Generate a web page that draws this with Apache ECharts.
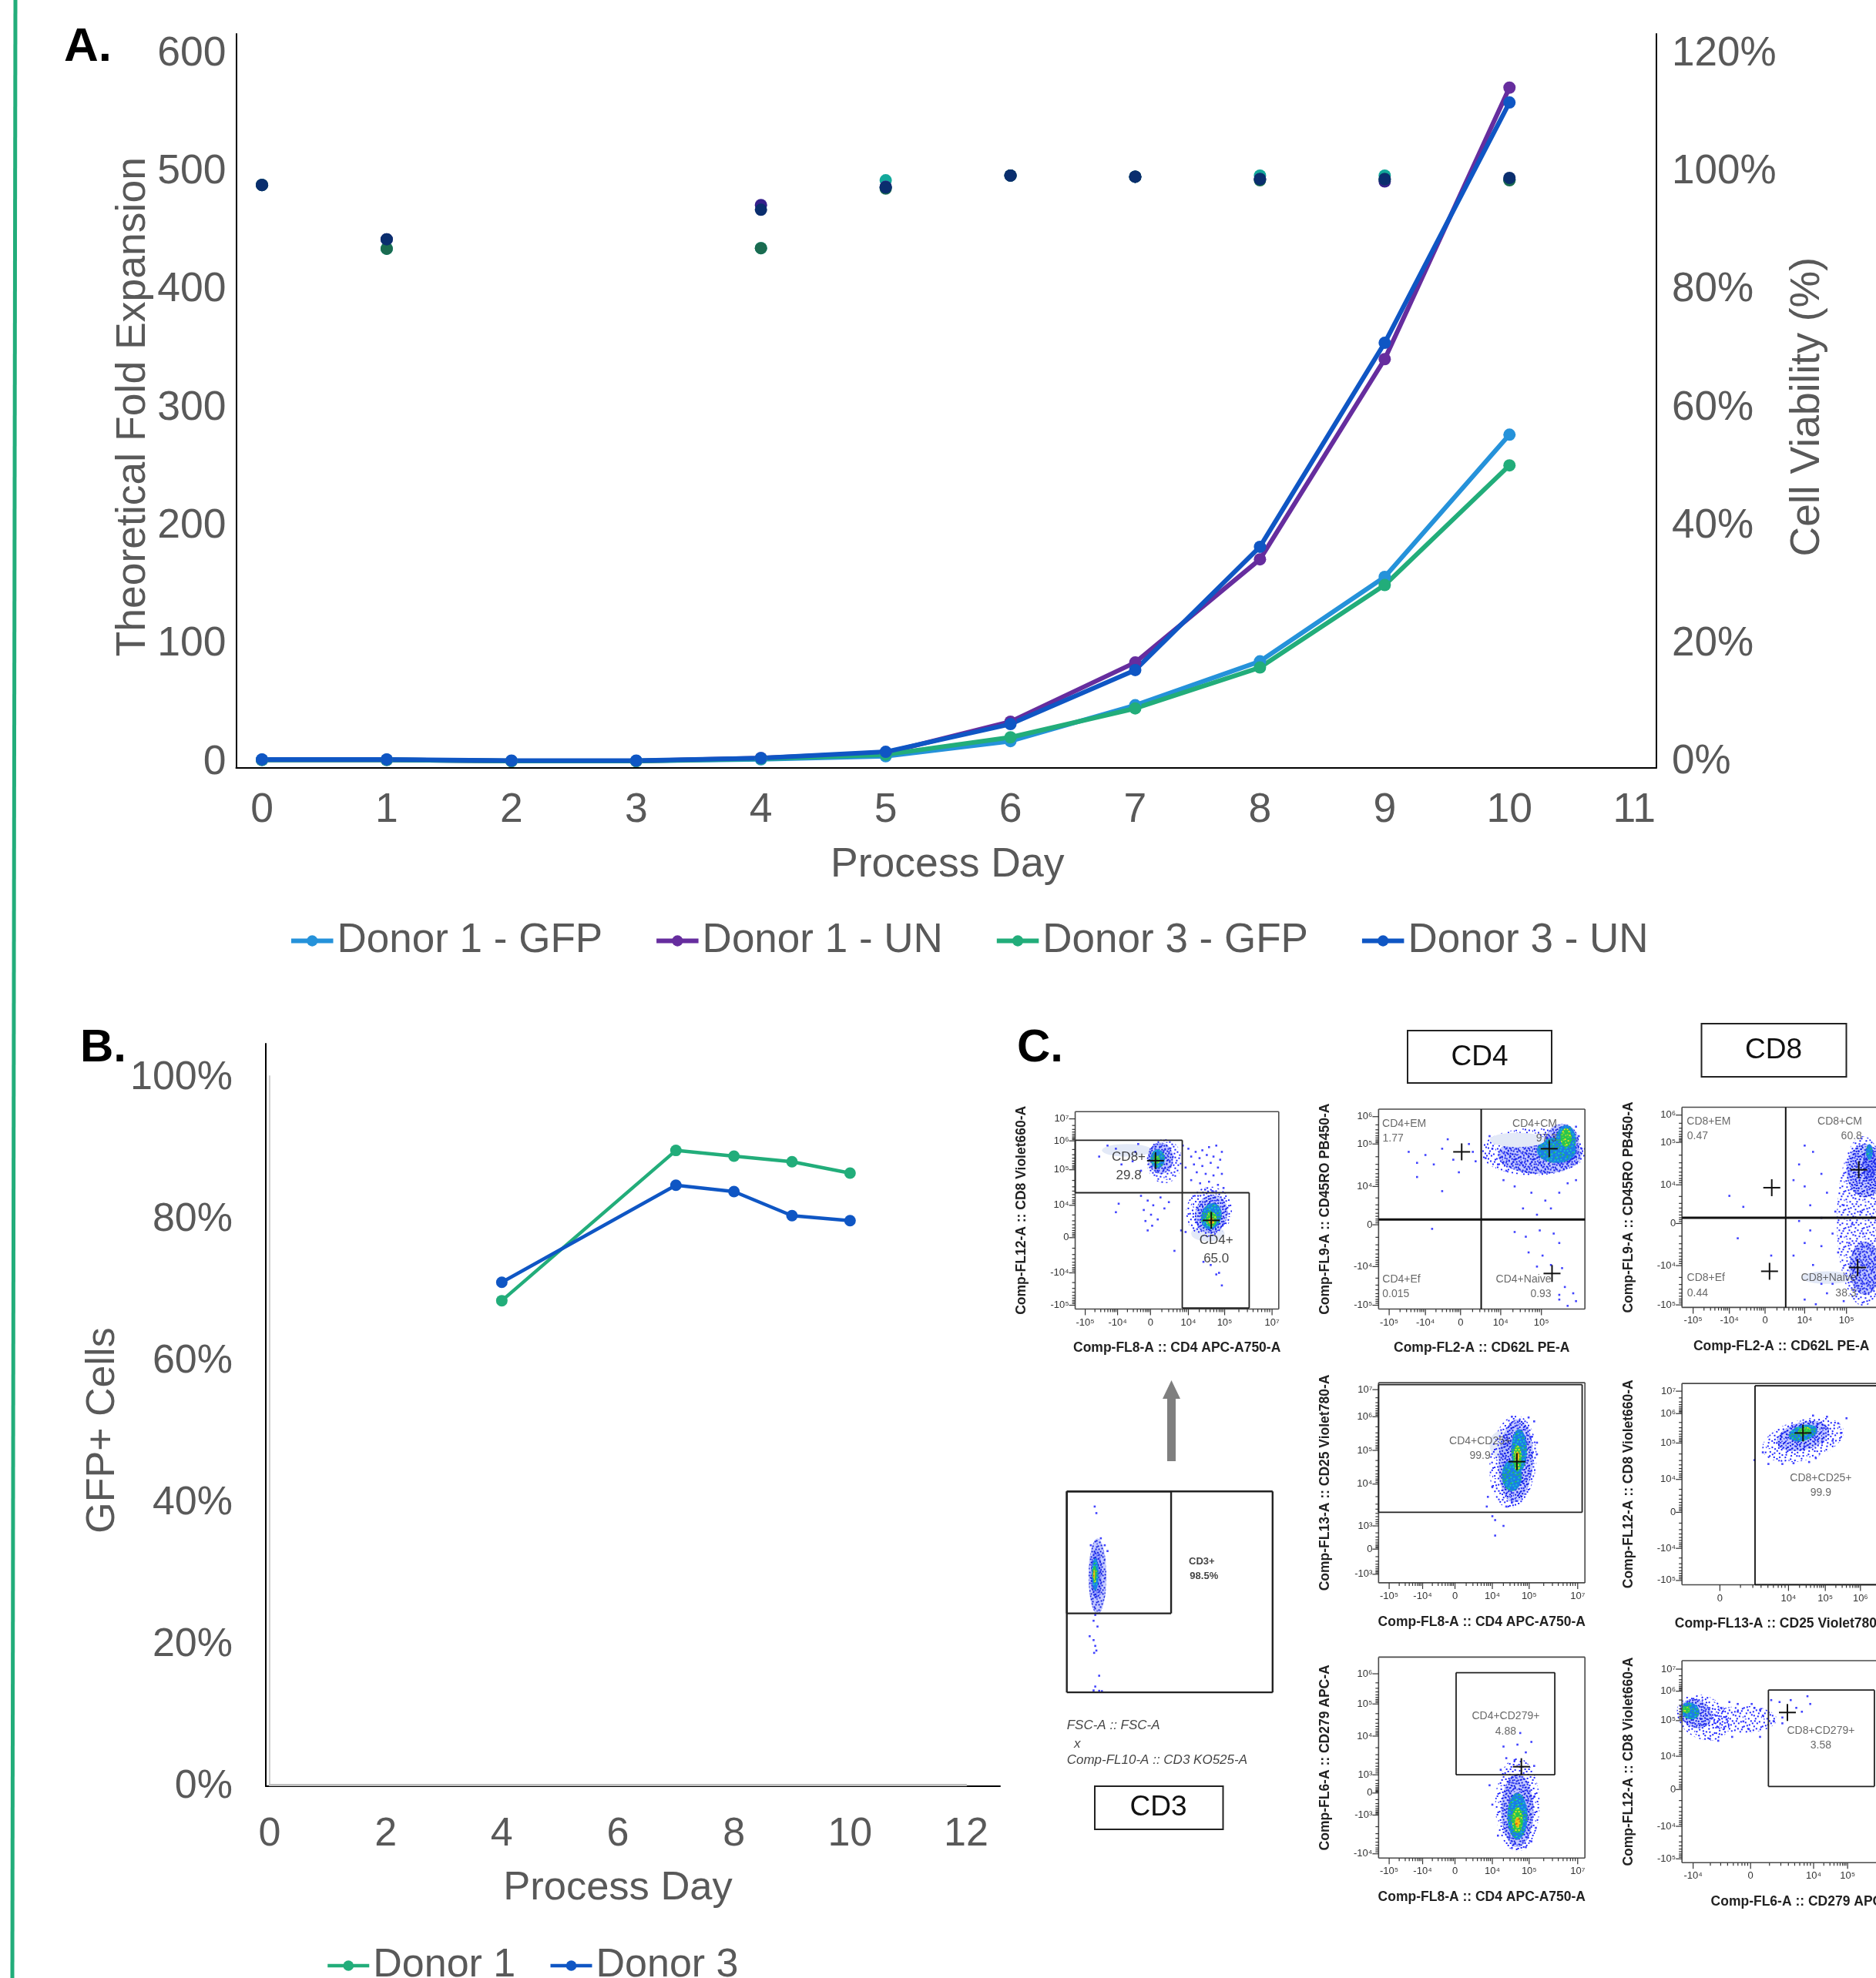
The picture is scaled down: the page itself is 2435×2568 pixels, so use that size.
<!DOCTYPE html>
<html><head><meta charset="utf-8">
<script src="https://cdn.jsdelivr.net/npm/echarts@6/dist/echarts.min.js"></script>
<style>html,body{margin:0;padding:0;background:#fff}#c{width:2435px;height:2568px}</style></head>
<body><div id="c"></div>
<script>
// ---------- Panel A data ----------
const days = [0,1,2,3,4,5,6,7,8,9,10];
const foldD1GFP = [6.5,6.5,5.5,5.5,7,9.6,22.4,52.8,90,161.5,282];
const foldD1UN  = [6.5,6.5,5.5,5.5,8,12.5,38.9,89,176.4,346,576];
const foldD3GFP = [6.5,6.5,5.5,5.5,7.5,11,25.6,50.1,84.8,154.6,256];
const foldD3UN  = [6.9,6.9,5.9,5.9,8,13.3,36.8,82.6,187,359.8,563.4];
const viaD1GFP = [98.7,87.9,null,null,88,99.5,100.3,100.1,100.3,100.3,99.6];
const viaD1UN  = [98.7,89.5,null,null,95.3,98.4,100.3,100.1,99.7,99.3,99.6];
const viaD3GFP = [98.7,87.9,null,null,88,98.1,100.3,100.1,99.5,99.7,99.5];
const viaD3UN  = [98.7,89.5,null,null,94.5,98.3,100.3,100.1,99.7,99.7,99.9];
const foldTicks = [0,100,200,300,400,500,600];
const viaTicks = [0,20,40,60,80,100,120];
const dayTicksA = [0,1,2,3,4,5,6,7,8,9,10,11];
// ---------- Panel B data ----------
const gfpDays = [4,7,8,9,10];
const gfpD1 = [68.3,89.5,88.7,87.9,86.3];
const gfpD3 = [70.9,84.6,83.7,80.3,79.6];

const FONT = '"Liberation Sans",Arial,sans-serif';
const GREY = '#595959';
const cGFP1='#2592DA', cUN1='#662D9E', cGFP3='#22AD7A', cUN3='#0F56C4';
const zip = (xs,ys)=>xs.map((x,i)=>[x,ys[i]]);

const grid=[], xAxis=[], yAxis=[], series=[];

// ---- Panel A ----
grid.push({left:306.5,top:44,width:1843.5,height:952.5,outerBoundsMode:'none'});
xAxis.push({type:'value',gridIndex:0,min:-0.207,max:11.178,
  name:'Process Day',nameLocation:'middle',nameGap:100,nameMoveOverlap:false,nameTextStyle:{fontSize:53.5,fontFamily:FONT,color:GREY,padding:[0,0,0,3]},
  axisLine:{onZero:false,lineStyle:{color:'#000',width:2}},axisTick:{show:false},splitLine:{show:false},
  axisLabel:{customValues:dayTicksA,fontSize:53.5,fontFamily:FONT,color:GREY,margin:29}});
yAxis.push({type:'value',gridIndex:0,min:0,max:621.5,
  name:'Theoretical Fold Expansion',nameLocation:'middle',nameGap:106,nameMoveOverlap:false,nameTextStyle:{fontSize:53.5,fontFamily:FONT,color:GREY,padding:[0,16,0,0]},
  axisLine:{show:true,onZero:false,lineStyle:{color:'#000',width:2}},axisTick:{show:false},splitLine:{show:false},
  axisLabel:{customValues:foldTicks,fontSize:53.5,fontFamily:FONT,color:GREY,margin:13,verticalAlign:'bottom',lineHeight:13.5}});
yAxis.push({type:'value',gridIndex:0,position:'right',min:0,max:124.3,
  name:'Cell Viability (%)',nameLocation:'middle',nameRotate:90,nameGap:169,nameMoveOverlap:false,nameTextStyle:{fontSize:53.5,fontFamily:FONT,color:GREY,padding:[0,16,0,0]},
  axisLine:{show:true,onZero:false,lineStyle:{color:'#000',width:2}},axisTick:{show:false},splitLine:{show:false},
  axisLabel:{customValues:viaTicks,fontSize:53,fontFamily:FONT,color:GREY,margin:20,verticalAlign:'bottom',lineHeight:13.5,formatter:v=>v+'%'}});
[['Viability D1 GFP',viaD1GFP,'#13A89B'],['Viability D1 UN',viaD1UN,'#36208C'],['Viability D3 GFP',viaD3GFP,'#1A6B50'],['Viability D3 UN',viaD3UN,'#0A2E6E']].forEach(s=>{
  series.push({type:'scatter',name:s[0],xAxisIndex:0,yAxisIndex:1,symbolSize:16,data:zip(days,s[1]),itemStyle:{color:s[2],opacity:1},silent:true});
});
[['Donor 1 - GFP',foldD1GFP,cGFP1],['Donor 1 - UN',foldD1UN,cUN1],['Donor 3 - GFP',foldD3GFP,cGFP3],['Donor 3 - UN',foldD3UN,cUN3]].forEach(s=>{
  series.push({type:'line',name:s[0],xAxisIndex:0,yAxisIndex:0,symbol:'circle',symbolSize:16,showSymbol:true,data:zip(days,s[1]),
    lineStyle:{color:s[2],width:6},itemStyle:{color:s[2]},silent:true});
});

// ---- Panel B: black outer axes, grey inner axes carrying the data ----
grid.push({left:345,top:1355,width:953,height:964,outerBoundsMode:'none'});
xAxis.push({type:'value',gridIndex:1,min:0,max:1,axisLine:{lineStyle:{color:'#000',width:2}},axisTick:{show:false},axisLabel:{show:false},splitLine:{show:false}});
yAxis.push({type:'value',gridIndex:1,min:0,max:1,axisLine:{show:true,lineStyle:{color:'#000',width:2}},axisTick:{show:false},axisLabel:{show:false},splitLine:{show:false}});
grid.push({left:350,top:1397,width:904,height:920,outerBoundsMode:'none'});
xAxis.push({type:'value',gridIndex:2,min:0,max:12,interval:2,
  name:'Process Day',nameLocation:'middle',nameGap:108,nameMoveOverlap:false,nameTextStyle:{fontSize:52.5,fontFamily:FONT,color:GREY},
  axisLine:{lineStyle:{color:'#bfbfbf',width:3}},axisTick:{show:false},splitLine:{show:false},
  axisLabel:{fontSize:52,fontFamily:FONT,color:GREY,margin:39}});
yAxis.push({type:'value',gridIndex:2,min:0,max:100,interval:20,
  name:'GFP+ Cells',nameLocation:'middle',nameGap:190,nameMoveOverlap:false,nameTextStyle:{fontSize:52,fontFamily:FONT,color:GREY},
  axisLine:{show:true,lineStyle:{color:'#cfcfcf',width:2}},axisTick:{show:false},splitLine:{show:false},
  axisLabel:{fontSize:52,fontFamily:FONT,color:GREY,margin:48,verticalAlign:'top',lineHeight:6,formatter:v=>v+'%'}});
[['Donor 1',gfpD1,cGFP3],['Donor 3',gfpD3,cUN3]].forEach(s=>{
  series.push({type:'line',name:s[0],xAxisIndex:2,yAxisIndex:3,symbol:'circle',symbolSize:15,showSymbol:true,data:zip(gfpDays,s[1]),
    lineStyle:{color:s[2],width:4.5},itemStyle:{color:s[2]},silent:true});
});

// ---- Panel C: flow-cytometry plots (estimated gates, density clouds and sparse events) ----
const FX=0.7239, FY3=0.408, FY4=0.5026, OX=1300, OY3=1320, OY4=1780;
const SPK='#2b2dff';
const sup={'4':'⁴','5':'⁵','6':'⁶','7':'⁷','3':'³'};
const T=(neg,e)=>(neg?'-':'')+'10'+sup[e];

// stipple tile used as the fill of a density cloud, so that it reads as dots rather than a flat shape
const TILE_DOTS=[[2,3],[9,1],[17,4],[22,9],[5,11],[13,8],[19,15],[1,19],[10,17],[15,22],[7,6],[20,2],[3,15],[12,13],[23,20],[6,22],[16,11],[11,4],[0,8],[18,19],[8,14],[14,1],[21,12],[4,7],[13,18],[2,23],[17,8],[9,21],[23,5],[6,17],[11,10],[19,23],[1,12],[15,5],[8,2],[20,17],[4,20],[12,22],[22,1],[16,15]];
function tile(n,col,bg,col2){
  const c=document.createElement('canvas');c.width=c.height=24;const g=c.getContext('2d');
  if(bg){g.fillStyle=bg;g.fillRect(0,0,24,24);}
  TILE_DOTS.slice(0,n).forEach((d,i)=>{g.fillStyle=(col2&&i%2)?col2:col;g.fillRect(d[0],d[1],2,2);});
  return {image:c,repeat:'repeat'};
}
const DENS=[
  tile(26,'#1d22ff',null),                  // 0 sparse events
  tile(40,'#1420e0','rgba(60,80,255,.3)'),  // 1 dense blue
  tile(40,'#18c9c0','#1a7ce8','#27c64e'),   // 2 cyan / green
  tile(40,'#efe21e','#27c64e','#7fd83a'),   // 3 green / yellow
  tile(40,'#e8560f','#f0c814','#d8300f'),   // 4 orange / red
  null,
  '#e3e9f7'                                 // 6 pale backdrop behind labels
];
// symbols are drawn scaled up from a 2x2 unit path; undo that for the stipple so it stays at pixel size
const cloudFill=(lvl,w,h)=>typeof DENS[lvl]==='string'?DENS[lvl]:{...DENS[lvl],scaleX:2/w,scaleY:2/h};

const p1Events=[[335,420],[348,430],[360,425],[372,415],[385,410],[395,430],[340,445],[355,450],[368,440],[380,445],[392,455],[345,470],[360,475],[375,465],[388,480],[350,495],[366,500],[380,505],[395,500],[340,520],[356,530],[372,525],[388,535],[398,545],[365,550],[378,555],[250,570],[262,585],[272,600],[255,615],[268,630],[280,645],[258,650],[270,665],[262,680],[210,595],[205,622],[292,610],[285,575],[300,590],[175,445],[190,410],[205,420],[215,470],[240,430],[250,490],[245,405],[235,460],[310,745],[385,820],[395,855],[375,790],[362,780],[330,685],[322,680],[390,815],[325,410],[330,480]];
const p1Clouds=[[225,425,90,40,0,6],[370,690,60,50,0,6],[292,460,64,140,0,0],[285,450,46,100,0,1],[280,452,26,60,0,2],[278,455,12,26,0,3],[372,620,82,160,-15,0],[376,628,58,125,-15,1],[376,635,36,85,-15,2],[376,645,20,48,0,3],[376,650,10,20,0,4]];
const p2Events=[[730,430],[745,465],[760,440],[775,470],[790,420],[800,390],[810,455],[838,405],[845,430],[850,460],[790,555],[745,510],[820,495],[772,675],[900,520],[920,540],[950,560],[975,585],[1000,560],[1015,530],[960,630],[985,610],[1030,520],[935,610],[920,685],[940,700],[965,680],[990,690],[1000,720],[945,750],[970,760],[985,790],[1005,800],[960,795],[1010,860],[1000,885],[1025,880],[1015,920],[1030,905],[1000,900],[875,380],[880,420],[868,450],[890,470],[905,490],[1035,380],[1040,420],[1030,350]];
const p2Clouds=[[953,430,188,150,0,0],[965,440,150,120,0,1],[1005,405,62,130,0,1],[995,425,70,80,0,2],[1012,395,36,100,0,2],[1012,385,20,60,0,3],[925,392,100,46,0,6]];
const p3Events=[[1305,570],[1330,605],[1320,705],[1380,760],[1440,410],[1430,470],[1455,430],[1470,500],[1440,540],[1420,520],[1480,560],[1450,600],[1470,640],[1430,650],[1450,680],[1490,690],[1470,730],[1440,720],[1420,760],[1455,790],[1470,850],[1480,880],[1440,900],[1460,915],[1495,620],[1510,600],[1525,660],[1505,700],[1520,720],[1540,620],[1545,690],[1500,750],[1490,850],[1510,905]];
const p3Clouds=[[1480,830,90,40,0,6],[1545,650,95,540,0,0],[1548,490,66,170,0,1],[1548,800,56,170,0,1],[1556,470,24,110,0,1],[1556,430,12,50,0,2]];
const p4Events=[[880,375],[885,385],[900,400],[885,425],[870,350],[905,350],[915,340],[945,120],[955,130],[915,118],[950,170],[960,185],[880,300],[872,325],[960,215]];
const p4Clouds=[[895,190,40,70,0,6],[917,235,84,240,-5,0],[922,232,62,215,-3,1],[915,270,36,80,0,2],[928,205,28,110,0,2],[925,225,15,66,0,3],[925,220,7,26,0,4]];
const p5Events=[[1350,230],[1365,210],[1375,240],[1400,240],[1420,238],[1448,235],[1460,225],[1490,180],[1505,160],[1515,122],[1500,135],[1480,118],[1455,115]];
const p5Clouds=[[1437,178,150,105,15,0],[1437,168,96,72,15,1],[1437,160,52,40,15,2],[1440,155,24,20,15,3]];
const p6Events=[[900,970],[925,965],[950,958],[940,985],[905,1000],[920,1005],[955,1020],[895,1030],[930,935],[875,1070],[880,1120],[955,1100],[958,1180],[890,1200],[915,1232],[940,1230],[950,1215]];
const p6Clouds=[[925,1120,80,240,0,0],[925,1135,58,190,0,1],[925,1150,36,120,0,2],[925,1160,20,66,0,3],[925,1165,9,26,0,4]];
const p7Events=[[1285,920],[1300,900],[1310,945],[1285,955],[1270,950],[1320,880],[1330,905],[1340,925],[1350,870],[1365,890],[1360,945],[1345,860],[1380,850],[1395,855],[1400,895],[1415,850],[1425,870],[1435,880],[1445,840],[1450,860],[1385,905],[1400,910],[1320,860],[1305,855],[1290,870],[1360,875]];
const p7Clouds=[[1330,900,120,70,0,0],[1258,895,100,110,-30,0],[1245,885,60,72,-30,1],[1235,878,34,42,-30,2],[1228,875,14,18,-30,3]];
const p8Events=[[167,350],[170,367],[168,630],[165,645],[172,660],[158,685],[165,695],[168,710],[170,722],[166,728],[175,787],[168,815],[165,825],[175,826],[180,827],[178,432],[185,450],[190,465],[160,450]];
const p8Clouds=[[172,530,32,195,0,1],[170,525,20,130,0,1],[168,525,12,84,0,2],[167,525,7,44,0,3],[166,525,3,24,0,4]];

const small=14, big=17;
const panels=[
 {view:[132,497,302,930],oy:OY3,fy:FY3,
  xl:[[150,T(1,5)],[208,T(1,4)],[267,'0'],[335,T(0,4)],[400,T(0,5)],[485,T(0,7)]],
  yl:[[325,T(0,7)],[395,T(0,6)],[487,T(0,5)],[600,T(0,4)],[703,'0'],[815,T(1,4)],[918,T(1,5)]],
  xt:'Comp-FL8-A :: CD4 APC-A750-A',yt:'Comp-FL12-A :: CD8 Violet660-A',
  gates:[[132,393,324,560],[324,560,444,927]],crosses:[[276,458],[376,648]],
  text:[[228,446,'CD8+',big],[228,505,'29.8',big],[385,712,'CD4+',big],[385,770,'65.0',big]],
  clouds:p1Clouds,events:p1Events},
 {view:[676,1046,294,930],oy:OY3,fy:FY3,
  xl:[[695,T(1,5)],[760,T(1,4)],[823,'0'],[895,T(0,4)],[968,T(0,5)]],
  yl:[[318,T(0,6)],[405,T(0,5)],[540,T(0,4)],[662,'0'],[795,T(1,4)],[918,T(1,5)]],
  xt:'Comp-FL2-A :: CD62L PE-A',yt:'Comp-FL9-A :: CD45RO PB450-A',
  lines:[[860,294,860,930,2],[676,645,1046,645,3]],crosses:[[825,430],[982,420],[987,817]],
  text:[[722,341,'CD4+EM',small],[702,388,'1.77',small],[956,341,'CD4+CM',small],[977,387,'97.3',small],[717,836,'CD4+Ef',small],[707,883,'0.015',small],[936,836,'CD4+Naive',small],[967,883,'0.93',small]],
  clouds:p2Clouds,events:p2Events},
 {view:[1220,1568,288,925],oy:OY3,fy:FY3,xPad:6,open:true,
  xl:[[1240,T(1,5)],[1305,T(1,4)],[1369,'0'],[1440,T(0,4)],[1515,T(0,5)]],
  yl:[[313,T(0,6)],[400,T(0,5)],[535,T(0,4)],[658,'0'],[792,T(1,4)],[917,T(1,5)]],
  xt:'Comp-FL2-A :: CD62L PE-A',yt:'Comp-FL9-A :: CD45RO PB450-A',
  lines:[[1406,288,1406,925,2],[1220,640,1568,640,3]],crosses:[[1537,487],[1381,544],[1377,810],[1535,798]],
  text:[[1268,334,'CD8+EM',small],[1248,381,'0.47',small],[1503,334,'CD8+CM',small],[1524,381,'60.8',small],[1263,832,'CD8+Ef',small],[1248,880,'0.44',small],[1483,832,'CD8+Naive',small],[1514,880,'38.3',small]],
  clouds:p3Clouds,events:p3Events},
 {view:[676,1046,30,547],oy:OY4,fy:FY4,
  xl:[[695,T(1,5)],[755,T(1,4)],[813,'0'],[880,T(0,4)],[946,T(0,5)],[1033,T(0,7)]],
  yl:[[48,T(0,7)],[118,T(0,6)],[205,T(0,5)],[292,T(0,4)],[400,T(0,3)],[460,'0'],[525,T(1,3)]],
  xt:'Comp-FL8-A :: CD4 APC-A750-A',yt:'Comp-FL13-A :: CD25 Violet780-A',
  gates:[[676,35,1041,365]],crosses:[[924,234]],
  text:[[858,181,'CD4+CD25+',small],[858,220,'99.9',small]],
  clouds:p4Clouds,events:p4Events},
 {view:[1220,1568,32,552],oy:OY4,fy:FY4,xPad:10,open:true,
  xl:[[1288,'0'],[1411,T(0,4)],[1477,T(0,5)],[1540,T(0,6)]],
  yl:[[52,T(0,7)],[110,T(0,6)],[186,T(0,5)],[280,T(0,4)],[365,'0'],[458,T(1,4)],[541,T(1,5)]],
  xt:'Comp-FL13-A :: CD25 Violet780-A',yt:'Comp-FL12-A :: CD8 Violet660-A',
  lines:[[1351,38,1568,38,1.8],[1351,38,1351,552,1.8],[1351,552,1568,552,1.8]],crosses:[[1437,160]],
  text:[[1469,276,'CD8+CD25+',small],[1469,314,'99.9',small]],
  clouds:p5Clouds,events:p5Events},
 {view:[676,1046,739,1258],oy:OY4,fy:FY4,
  xl:[[695,T(1,5)],[755,T(1,4)],[813,'0'],[880,T(0,4)],[946,T(0,5)],[1033,T(0,7)]],
  yl:[[782,T(0,6)],[860,T(0,5)],[943,T(0,4)],[1043,T(0,3)],[1090,'0'],[1147,T(1,3)],[1247,T(1,4)]],
  xt:'Comp-FL8-A :: CD4 APC-A750-A',yt:'Comp-FL6-A :: CD279 APC-A',
  gates:[[815,779,992,1043]],crosses:[[932,1022]],
  text:[[904,892,'CD4+CD279+',small],[904,931,'4.88',small]],
  clouds:p6Clouds,events:p6Events},
 {view:[1220,1568,748,1270],oy:OY4,fy:FY4,xPad:64,open:true,
  xl:[[1240,T(1,4)],[1343,'0'],[1456,T(0,4)],[1517,T(0,5)]],
  yl:[[770,T(0,7)],[827,T(0,6)],[903,T(0,5)],[995,T(0,4)],[1081,'0'],[1176,T(1,4)],[1260,T(1,5)]],
  xt:'Comp-FL6-A :: CD279 APC-A',yt:'Comp-FL12-A :: CD8 Violet660-A',
  gates:[[1375,824,1565,1073]],crosses:[[1409,882]],
  text:[[1469,929,'CD8+CD279+',small],[1469,968,'3.58',small]],
  clouds:p7Clouds,events:p7Events},
 {view:[117,486,311,830],oy:OY4,fy:FY4,noAxes:true,
  gates:[[117,311,304,626]],crosses:[],
  text:[[359,493,'CD3+',13,'bold'],[363,531,'98.5%',13,'bold'],
        [117,915,'FSC-A :: FSC-A',17,'italic','left'],[130,964,'x',17,'italic','left'],[117,1005,'Comp-FL10-A :: CD3 KO525-A',17,'italic','left']],
  clouds:p8Clouds,events:p8Events},
];

panels.forEach(p=>{
  const gi=grid.length, [x0,x1,y0,y1]=p.view;
  grid.push({left:OX+x0*FX,width:(x1-x0)*FX,top:p.oy+y0*p.fy,height:(y1-y0)*p.fy,outerBoundsMode:'none'});
  const xm=Object.fromEntries((p.xl||[]).map(a=>[a[0],a[1]])), ym=Object.fromEntries((p.yl||[]).map(a=>[a[0],a[1]]));
  const titleStyle={fontSize:17.5,fontWeight:'bold',fontFamily:FONT,color:'#222'};
  xAxis.push({type:'value',gridIndex:gi,min:x0,max:x1,axisLine:{show:false},axisTick:{show:false},splitLine:{show:false},
    name:p.xt||'',nameLocation:'middle',nameGap:42,nameMoveOverlap:false,nameTextStyle:{...titleStyle,padding:[0,0,0,p.xPad||0]},
    axisLabel:p.noAxes?{show:false}:{customValues:p.xl.map(a=>a[0]),formatter:v=>xm[v],fontSize:13,fontFamily:FONT,color:'#333',margin:11}});
  yAxis.push({type:'value',gridIndex:gi,min:y0,max:y1,inverse:true,axisLine:{show:false},axisTick:{show:false},splitLine:{show:false},
    name:p.yt||'',nameLocation:'middle',nameGap:60,nameMoveOverlap:false,nameTextStyle:titleStyle,
    axisLabel:p.noAxes?{show:false}:{customValues:p.yl.map(a=>a[0]),formatter:v=>ym[v],fontSize:13,fontFamily:FONT,color:'#333',margin:8}});
  const ax={xAxisIndex:xAxis.length-1,yAxisIndex:yAxis.length-1,silent:true};
  // density clouds
  series.push({type:'scatter',...ax,clip:false,z:2,data:p.clouds.map(c=>{const w=c[2]*FX,h=c[3]*p.fy;
    return {value:[c[0],c[1]],symbolSize:[w,h],symbolRotate:c[4],itemStyle:{color:cloudFill(c[5],w,h),opacity:1}};})});
  // sparse events
  series.push({type:'scatter',...ax,clip:false,z:3,symbol:'rect',symbolSize:2.6,itemStyle:{color:SPK,opacity:0.9},data:p.events});
  // frame, gates, crosses and ticks as segments
  const seg=[];
  const box=(a,b,c,d,lw,col)=>{seg.push([a,b,c,b,lw,col],[c,b,c,d,lw,col],[c,d,a,d,lw,col],[a,d,a,b,lw,col]);};
  const fw=p.noAxes?2.4:1.6, fc=p.noAxes?'#222':'#4a4a4a';
  if(p.open){seg.push([x0,y0,x1,y0,fw,fc],[x0,y1,x1,y1,fw,fc],[x0,y0,x0,y1,fw,fc]);}
  else box(x0,y0,x1,y1,fw,fc);
  (p.gates||[]).forEach(g=>box(g[0],g[1],g[2],g[3],p.noAxes?2.4:1.8,'#222'));
  (p.lines||[]).forEach(l=>seg.push([l[0],l[1],l[2],l[3],l[4],'#111']));
  p.crosses.forEach(c=>{const dx=11/FX,dy=11/p.fy;seg.push([c[0]-dx,c[1],c[0]+dx,c[1],2,'#111'],[c[0],c[1]-dy,c[0],c[1]+dy,2,'#111']);});
  if(!p.noAxes){
    const minors=[.3,.48,.6,.7,.78,.85,.9,.95];
    const marks=(list,fn)=>{const v=list.map(a=>a[0]);v.forEach((m,i)=>{fn(m,8);if(i<v.length-1)minors.forEach(f=>fn(m+(v[i+1]-m)*f,4));});};
    marks(p.xl,(m,l)=>{seg.push([m,y1,m,y1+l/p.fy,1.2,'#333']);});
    marks(p.yl,(m,l)=>{seg.push([x0,m,x0-l/FX,m,1.2,'#333']);});
  }
  series.push({type:'custom',...ax,z:4,clip:false,data:seg.map(s=>s.slice(0,4)),
    renderItem:(params,api)=>{const s=seg[params.dataIndex],a=api.coord([s[0],s[1]]),b=api.coord([s[2],s[3]]);
      return {type:'line',shape:{x1:a[0],y1:a[1],x2:b[0],y2:b[1]},style:{stroke:s[5],lineWidth:s[4]}};}});
  // annotation text
  series.push({type:'scatter',...ax,clip:false,z:5,symbolSize:1,itemStyle:{color:'transparent'},
    data:p.text.map(t=>({value:[t[0],t[1]],label:{show:true,position:'inside',formatter:t[2],fontSize:t[3],fontFamily:FONT,
      fontWeight:t[4]==='bold'?'bold':'normal',fontStyle:t[4]==='italic'?'italic':'normal',align:t[5]||'center',verticalAlign:'middle',color:t[3]===small?'#444':'#111'}}))});
});

const legendText=(size)=>({fontSize:size,fontFamily:FONT,color:GREY});
const option={
  animation:false,backgroundColor:'#fff',
  grid,xAxis,yAxis,series,
  legend:[
   {left:370,top:1190,data:['Donor 1 - GFP','Donor 1 - UN','Donor 3 - GFP','Donor 3 - UN'],itemWidth:54.5,itemHeight:18,itemGap:67,lineStyle:{width:6},textStyle:{...legendText(53)},selectedMode:false},
   {left:418,top:2521,data:['Donor 1','Donor 3'],itemWidth:54,itemHeight:17,itemGap:43,lineStyle:{width:4.5},textStyle:{...legendText(52)},selectedMode:false}
  ],
  graphic:[
   {type:'line',shape:{x1:20,y1:0,x2:16,y2:2568},style:{stroke:'#22AD7A',lineWidth:5}},
   {type:'text',x:83,y:31,style:{text:'A.',font:'bold 62px '+FONT,fill:'#000'}},
   {type:'text',x:104,y:1331,style:{text:'B.',font:'bold 60px '+FONT,fill:'#000'}},
   {type:'text',x:1320,y:1331,style:{text:'C.',font:'bold 60px '+FONT,fill:'#000'}},
   {type:'rect',shape:{x:1827,y:1338,width:187,height:68},style:{fill:'#fff',stroke:'#222',lineWidth:2}},
   {type:'text',x:1920.5,y:1373,style:{text:'CD4',font:'37px '+FONT,fill:'#111',align:'center',verticalAlign:'middle'}},
   {type:'rect',shape:{x:2208.5,y:1329,width:188,height:69},style:{fill:'#fff',stroke:'#222',lineWidth:2}},
   {type:'text',x:2302,y:1364,style:{text:'CD8',font:'37px '+FONT,fill:'#111',align:'center',verticalAlign:'middle'}},
   {type:'rect',shape:{x:1421,y:2319,width:166.5,height:56},style:{fill:'#fff',stroke:'#222',lineWidth:2}},
   {type:'text',x:1503.5,y:2347,style:{text:'CD3',font:'37px '+FONT,fill:'#111',align:'center',verticalAlign:'middle'}},
   {type:'rect',shape:{x:1515,y:1815,width:11,height:82},style:{fill:'#7f7f7f'}},
   {type:'polygon',shape:{points:[[1520.5,1792],[1509,1816],[1532,1816]]},style:{fill:'#7f7f7f'}}
  ]
};
const chart=echarts.init(document.getElementById('c'),null,{renderer:'canvas'});
chart.setOption(option);
</script></body></html>
